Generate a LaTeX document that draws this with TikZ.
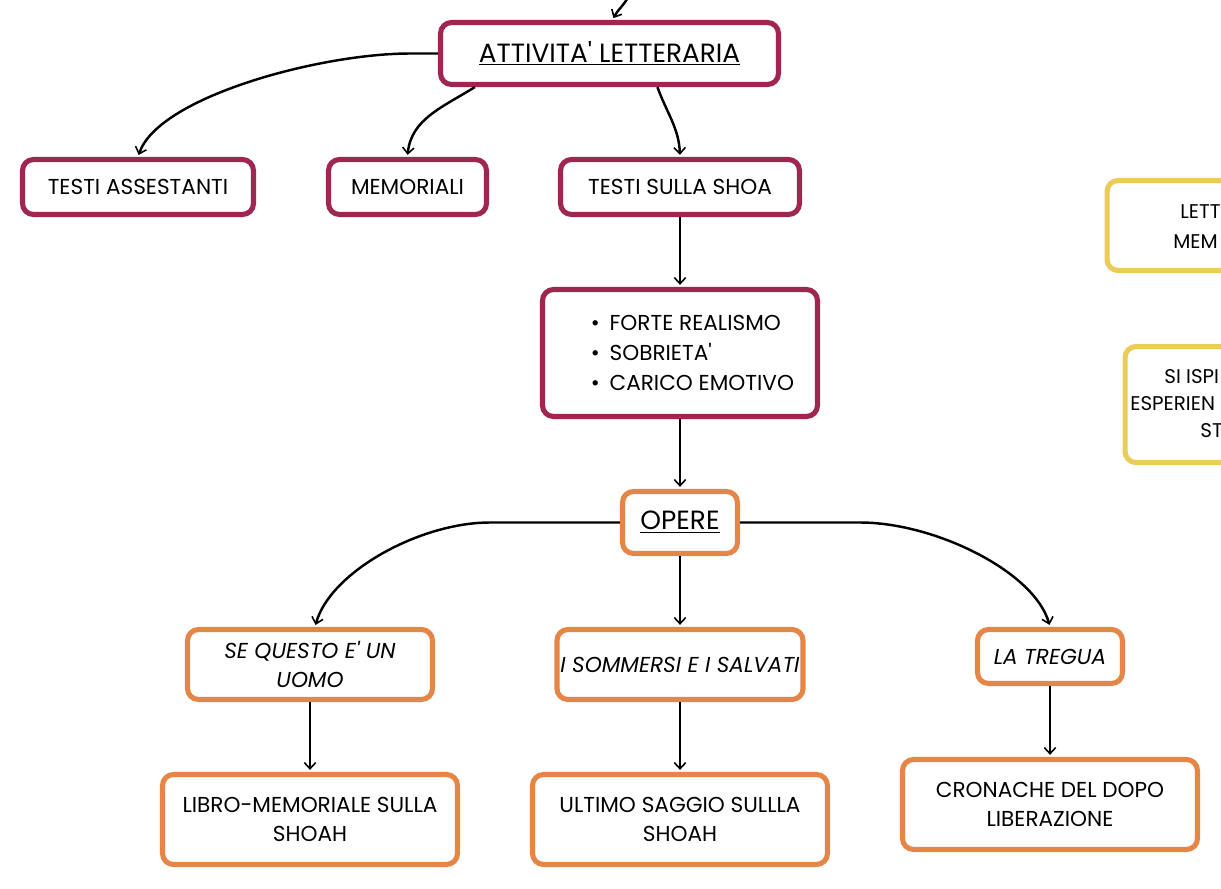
\documentclass[tikz,border=0pt]{standalone}
\usepackage{fontspec}
\setmainfont{Poppins}
\usetikzlibrary{arrows.meta}

\definecolor{maroon}{RGB}{158,38,80}
\definecolor{tangerine}{RGB}{230,134,70}
\definecolor{mustard}{RGB}{236,204,88}
\newcommand{\apo}{\textquotesingle}
\newcommand{\bul}{\hspace*{0.5cm}\textbullet\hspace{0.45em}}

\tikzset{
    box/.style={draw, line width=2.9pt, rounded corners=0.22cm, fill=white, align=center, inner sep=2pt, font=\fontsize{12.3}{17}\selectfont},
    maroonbox/.style={box, draw=maroon},
    orangebox/.style={box, draw=tangerine},
    yellowbox/.style={box, draw=mustard},
    frag/.style={inner sep=0pt, anchor=base west, font=\fontsize{11.3}{17}\selectfont},
    big/.style={font=\fontsize{15}{17}\selectfont},
    arr/.style={line width=1.4pt, shorten >=1.2pt, -{Straight Barb[length=3.5pt,width=6.5pt,line width=0.9pt]}},
}

\begin{document}
\begin{tikzpicture}[x=0.02cm, y=0.02cm]

    \useasboundingbox[fill=white] (0, 0) rectangle (1221, -889);

    % upper part
    \coordinate (src) at (629, 4);
    \node[maroonbox, big, minimum width=6.76cm, minimum height=1.24cm] (att) at (609.5, -53.5) {\underline{ATTIVITA\apo{} LETTERARIA}};

    \node[maroonbox, minimum width=4.62cm, minimum height=1.1cm] (ta) at (138, -187) {TESTI ASSESTANTI};
    \node[maroonbox, minimum width=3.16cm, minimum height=1.1cm] (mem) at (407.5, -187) {MEMORIALI};
    \node[maroonbox, minimum width=4.78cm, minimum height=1.1cm] (tss) at (680, -187) {TESTI SULLA SHOA};

    \node[maroonbox, align=left, minimum width=5.5cm, minimum height=2.54cm] (car) at (680, -353) {\bul FORTE REALISMO\\ \bul SOBRIETA\apo\\ \bul CARICO EMOTIVO};

    % opere
    \node[orangebox, big, minimum width=2.3cm, minimum height=1.24cm] (ope) at (680, -522.5) {\underline{OPERE}};

    \node[orangebox, minimum width=4.9cm, minimum height=1.4cm] (sq) at (310, -664.5) {\textit{SE QUESTO E\apo{} UN}\\ \textit{UOMO}};
    \node[orangebox, minimum width=4.9cm, minimum height=1.4cm] (som) at (680, -664.5) {\textit{I SOMMERSI E I SALVATI}};
    \node[orangebox, minimum width=2.9cm, minimum height=1.08cm] (tre) at (1050, -656.5) {\textit{LA TREGUA}};

    \node[orangebox, minimum width=5.9cm, minimum height=1.8cm] (lib) at (310, -819.5) {LIBRO-MEMORIALE SULLA\\ SHOAH};
    \node[orangebox, minimum width=5.9cm, minimum height=1.8cm] (ult) at (680, -819.5) {ULTIMO SAGGIO SULLLA\\ SHOAH};
    \node[orangebox, minimum width=5.9cm, minimum height=1.8cm] (cro) at (1050, -804.5) {CRONACHE DEL DOPO\\ LIBERAZIONE};

    % boxes cut by the right edge
    \node[yellowbox, anchor=west, minimum width=6cm, minimum height=1.8cm] (lett) at (1104.5, -225.5) {};
    \node[frag] (lettA) at (1180, -218) {LETT};
    \node[frag] (lettB) at (1173, -248) {MEM};

    \node[yellowbox, anchor=west, minimum width=6cm, minimum height=2.32cm] (isp) at (1122.5, -404.5) {};
    \node[frag] (ispA) at (1164, -383) {SI ISPI};
    \node[frag] (ispB) at (1130, -410) {ESPERIEN};
    \node[frag] (ispC) at (1200, -437) {ST};

    % connectors
    \draw[arr] (src) to[out=-120, in=62] (att.85);
    \draw[arr] (att.west) -- ++(-28, 0) .. controls +(-90, 0) and +(20, 60) .. (ta.north);
    \draw[arr] (att.194) to[out=-148, in=85] (mem.north);
    \draw[arr] (att.-35) to[out=-70, in=92] (tss.north);
    \draw[arr] (tss) -- (car);
    \draw[arr] (car) -- (ope);

    \draw[arr] (ope.west) -- ++(-130, 0) .. controls +(-70, 0) and +(15, 55) .. ([xshift=0.1cm]sq.north);
    \draw[arr] (ope) -- (som);
    \draw[arr] (ope.east) -- ++(120, 0) .. controls +(75, 0) and +(-15, 55) .. (tre.north);

    \draw[arr] (sq) -- (lib);
    \draw[arr] (som) -- (ult);
    \draw[arr] (tre) -- (cro);

\end{tikzpicture}
\end{document}
